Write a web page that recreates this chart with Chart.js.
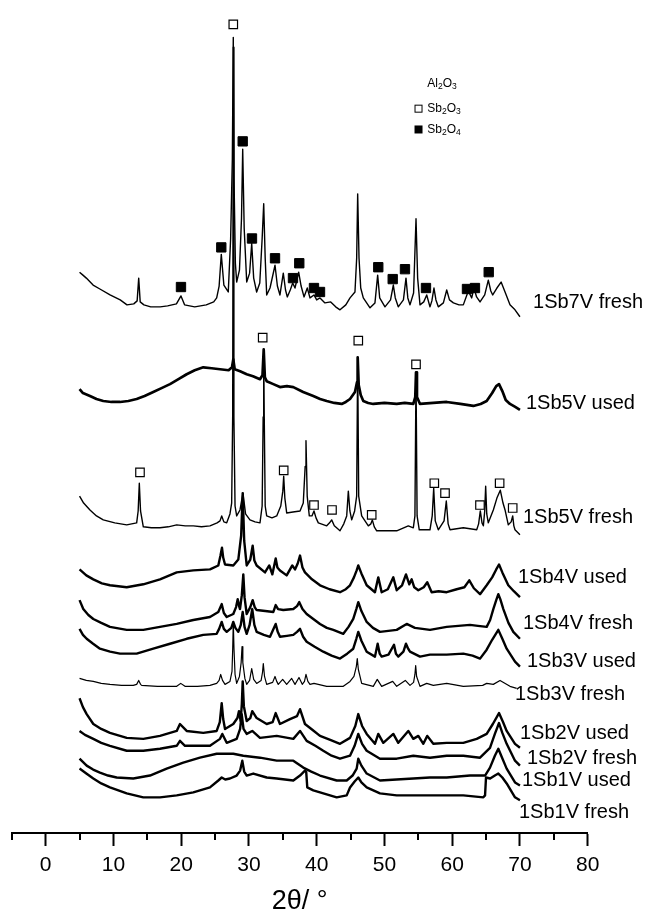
<!DOCTYPE html>
<html>
<head>
<meta charset="utf-8">
<script src="https://cdn.jsdelivr.net/npm/chart.js@4.4.0/dist/chart.umd.min.js"></script>
<style>
  html, body { margin: 0; padding: 0; background: #fff; }
  canvas { display: block; }
</style>
</head>
<body>
<canvas id="xrdChart" width="652" height="918"></canvas>
<script>
// XRD patterns, stacked with a vertical offset: [2theta, counts (a.u.)]
const sb7vFresh = [[5.0,566],[5.5,563],[6.0,560],[7.0,553],[8.0,549],[9.5,543],[11.0,538],[12.0,533],[13.0,534],[13.5,537],[13.73,560],[13.95,536],[14.5,533],[15.5,531],[16.9,531],[18.0,532],[19.3,534],[19.97,542],[20.5,533],[22.0,531],[23.7,533],[24.8,536],[25.24,540],[25.6,552],[25.92,584],[26.3,553],[26.95,546],[27.3,600],[27.55,680],[27.69,803],[27.8,660],[28.0,575],[28.19,556],[28.6,568],[28.9,620],[29.08,690],[29.3,610],[29.67,556],[30.1,565],[30.41,595],[30.7,560],[31.14,546],[31.6,555],[31.95,600],[32.18,635],[32.4,580],[32.62,543],[33.11,550],[33.85,573],[34.2,552],[34.58,543],[35.07,565],[35.4,548],[35.66,541],[36.1,548],[36.46,555],[36.8,550],[37.34,566],[37.7,552],[38.13,541],[38.61,550],[39.01,540],[39.6,543],[40.0,538],[40.49,540],[41.22,535],[42.07,536],[42.8,531],[43.44,528],[44.3,533],[44.92,540],[45.65,546],[45.9,580],[46.05,645],[46.25,580],[46.5,550],[46.88,540],[47.87,530],[48.6,535],[49.0,563],[49.3,540],[50.08,531],[50.9,538],[51.31,553],[51.6,540],[52.04,531],[52.8,538],[53.18,560],[53.45,540],[53.77,533],[54.3,545],[54.66,620],[54.9,560],[55.25,533],[55.8,536],[56.24,543],[56.72,531],[57.0,537],[57.31,550],[57.6,538],[57.95,531],[58.7,535],[59.19,548],[59.6,538],[60.18,535],[61.0,533],[61.64,533],[62.38,547],[62.88,540],[63.22,550],[63.6,541],[64.11,536],[64.8,543],[65.33,558],[65.7,547],[65.98,543],[66.6,550],[67.22,556],[67.8,546],[68.53,533],[69.27,528],[70.0,521]];

const sb5vUsed = [[5.0,448],[5.5,444],[6.54,441],[7.5,438],[8.5,436],[9.7,435],[10.97,435],[12.2,436],[13.43,438],[14.6,441],[15.88,445],[17.1,449],[18.35,453],[19.6,458],[20.81,463],[22.0,467],[23.26,470],[24.5,469],[25.73,468],[27.0,467],[27.5,470],[27.69,478],[27.9,468],[28.7,466],[29.67,463],[30.6,461],[31.63,458],[32.0,462],[32.18,488],[32.35,460],[32.62,456],[33.6,453],[34.58,450],[35.6,451],[36.55,450],[38.0,445],[39.5,441],[40.5,438],[41.48,436],[42.6,434],[43.69,433],[44.3,435],[44.92,438],[45.65,445],[45.95,455],[46.05,480],[46.2,452],[46.5,442],[46.88,436],[47.6,434],[48.35,433],[50.0,434],[51.81,433],[53.0,434],[54.26,433],[54.55,440],[54.66,465],[54.8,440],[55.25,433],[57.2,434],[59.19,435],[61.2,433],[63.12,431],[64.2,433],[65.09,436],[65.9,444],[66.5,451],[66.91,453],[67.4,446],[67.9,437],[68.53,433],[69.3,430],[70.0,427]];

const sb5vFresh = [[5.0,340],[5.6,333],[6.54,326],[7.5,320],[8.5,316],[10.2,313],[11.96,311],[13.43,313],[13.65,325],[13.82,353],[14.0,325],[14.41,309],[15.6,308],[16.87,308],[18.1,309],[19.34,311],[20.6,310],[21.79,310],[23.0,309],[24.25,310],[25.3,313],[25.73,315],[25.98,320],[26.3,314],[26.72,313],[27.2,322],[27.45,333],[27.6,420],[27.69,793],[27.78,420],[27.95,330],[28.19,320],[28.68,326],[29.12,343],[29.5,322],[30.15,316],[30.9,314],[31.63,313],[31.95,330],[32.1,420],[32.18,488],[32.26,420],[32.4,330],[32.62,320],[33.4,318],[34.1,320],[34.7,330],[35.0,345],[35.13,360],[35.3,338],[35.57,323],[36.5,324],[37.54,325],[38.02,333],[38.3,370],[38.42,396],[38.6,340],[38.91,320],[39.3,320],[39.6,325],[39.9,318],[40.24,313],[41.48,310],[41.9,313],[42.21,316],[42.6,310],[43.44,305],[44.0,312],[44.43,320],[44.67,345],[44.9,325],[45.17,316],[45.6,325],[45.9,340],[46.05,480],[46.2,340],[46.64,320],[47.62,310],[48.0,312],[48.21,316],[48.5,309],[48.86,305],[50.3,305],[51.81,305],[53.52,310],[54.26,308],[54.5,320],[54.66,463],[54.82,320],[55.14,306],[56.72,306],[57.05,320],[57.27,348],[57.5,315],[57.95,306],[58.8,315],[59.13,335],[59.4,312],[59.68,306],[61.64,308],[63.62,306],[63.9,312],[64.15,325],[64.4,313],[64.6,310],[64.8,325],[64.94,350],[65.1,322],[65.33,313],[66.07,326],[66.6,338],[67.1,346],[67.5,333],[67.8,326],[68.28,311],[68.7,314],[68.93,320],[69.1,310],[69.27,306],[70.0,301]];

const sb4vUsed = [[5.0,266],[6.0,260],[7.03,256],[8.3,252],[9.49,250],[11.96,248],[14.41,251],[16.87,256],[19.34,263],[21.79,265],[24.25,266],[25.48,270],[25.8,280],[26.02,288],[26.2,278],[26.47,271],[27.69,270],[28.43,276],[28.85,300],[29.08,343],[29.3,295],[29.67,270],[30.2,276],[30.55,290],[30.8,275],[31.14,270],[32.37,263],[33.0,270],[33.45,261],[33.95,277],[34.2,268],[34.58,265],[35.57,260],[36.4,270],[36.8,266],[37.2,272],[37.54,280],[37.9,268],[38.27,263],[39.3,256],[40.49,250],[41.9,246],[43.44,243],[44.3,246],[44.92,250],[45.5,258],[45.9,265],[46.14,270],[46.6,262],[47.38,250],[48.6,243],[49.09,258],[49.59,243],[50.5,246],[51.31,258],[51.81,245],[52.6,250],[53.18,261],[53.67,251],[54.02,256],[54.4,248],[55.0,245],[55.8,248],[56.32,253],[56.97,243],[58.0,244],[59.19,243],[60.66,246],[61.8,248],[62.52,255],[63.2,247],[64.11,241],[65.09,250],[65.9,258],[66.5,266],[66.91,271],[67.4,263],[68.28,250],[69.1,244],[70.0,238]];

const sb4vFresh = [[5.0,235],[5.55,226],[6.3,220],[7.03,216],[8.2,212],[9.49,208],[11.96,205],[14.41,205],[16.87,208],[19.34,211],[21.79,215],[24.25,218],[25.48,223],[25.98,231],[26.3,222],[26.72,218],[27.69,221],[28.1,228],[28.34,236],[28.55,229],[28.68,226],[28.95,240],[29.17,261],[29.35,238],[29.67,221],[30.2,228],[30.55,235],[30.85,228],[31.14,225],[32.4,224],[33.59,223],[33.95,230],[34.3,226],[35.07,225],[36.55,226],[37.1,229],[37.43,233],[37.9,226],[38.52,221],[39.5,216],[40.49,211],[41.5,207],[42.45,205],[43.93,201],[44.7,208],[45.4,216],[45.85,226],[46.14,233],[46.6,224],[47.38,213],[48.3,207],[49.34,203],[51.81,205],[53.28,211],[54.5,207],[56.72,205],[59.19,208],[60.9,209],[62.63,210],[63.8,209],[65.09,208],[65.6,215],[66.07,226],[66.5,235],[66.81,241],[67.1,236],[67.55,226],[68.3,212],[69.02,203],[70.0,196]];

const sb3vUsed = [[5.0,206],[5.5,200],[6.05,196],[7.0,191],[8.01,186],[9.5,183],[10.97,181],[13.43,181],[15.88,186],[18.35,191],[20.81,196],[23.26,200],[25.24,201],[25.6,206],[25.98,213],[26.3,206],[26.72,203],[27.4,207],[27.69,213],[28.0,207],[28.43,203],[28.8,210],[29.08,223],[29.35,208],[29.67,201],[30.1,210],[30.49,226],[30.8,210],[31.14,203],[32.2,200],[33.11,198],[33.95,211],[34.25,203],[34.58,198],[35.6,199],[36.55,200],[37.1,203],[37.54,206],[38.0,198],[38.52,193],[39.7,188],[40.97,183],[42.2,179],[43.44,176],[44.5,181],[45.4,186],[45.85,196],[46.14,203],[46.6,194],[47.38,183],[48.6,178],[49.0,191],[49.3,181],[49.59,178],[50.6,180],[51.41,190],[51.7,181],[52.04,178],[52.8,183],[53.18,191],[53.5,186],[53.77,183],[55.25,178],[56.72,180],[59.19,180],[61.64,181],[63.0,179],[64.11,176],[65.09,185],[65.9,195],[66.81,205],[67.4,196],[68.04,186],[69.27,173],[70.0,168]];

const sb3vFresh = [[5.0,156],[6.0,154],[7.03,153],[8.2,151],[9.49,150],[11.2,149],[12.93,149],[13.43,150],[13.73,154],[14.0,150],[14.17,149],[16.5,148],[19.34,148],[19.93,151],[20.56,148],[22.4,148],[24.25,149],[25.24,151],[25.6,154],[25.83,160],[26.1,154],[26.47,150],[27.2,153],[27.5,163],[27.6,185],[27.69,213],[27.8,185],[27.95,160],[28.19,151],[28.6,158],[28.85,172],[28.98,188],[29.1,172],[29.4,156],[29.67,150],[30.1,154],[30.41,166],[30.7,155],[31.14,151],[31.8,154],[32.0,162],[32.12,171],[32.3,158],[32.62,150],[33.5,152],[33.85,158],[34.1,153],[34.33,150],[34.98,155],[35.57,150],[36.31,156],[36.8,150],[37.39,157],[37.87,150],[38.2,153],[38.42,160],[38.7,153],[39.01,150],[39.6,151],[41.48,148],[43.93,148],[44.92,153],[45.5,158],[45.85,168],[45.99,176],[46.15,165],[46.64,151],[48.35,148],[48.94,155],[49.59,148],[51.22,153],[51.81,148],[53.08,154],[53.77,149],[54.3,152],[54.5,160],[54.61,169],[54.75,158],[55.25,148],[56.24,151],[57.21,149],[59.19,151],[61.64,148],[64.5,149],[65.09,151],[66.07,150],[67.06,154],[68.53,148],[69.52,146]];

const sb2vUsed = [[5.0,136],[5.5,127],[6.05,120],[7.03,110],[8.2,105],[9.49,101],[11.96,96],[14.41,95],[16.87,98],[19.34,103],[19.82,110],[20.81,103],[23.26,101],[25.24,103],[25.7,112],[25.98,131],[26.2,115],[26.47,105],[27.69,110],[28.3,116],[28.53,123],[28.78,113],[28.95,130],[29.08,153],[29.25,128],[29.67,113],[30.2,116],[30.49,123],[31.14,116],[32.62,110],[33.5,112],[33.95,121],[34.58,110],[36.06,115],[37.1,118],[37.54,125],[38.27,110],[39.4,104],[40.49,98],[42.0,94],[43.44,90],[44.92,96],[45.7,108],[46.14,120],[46.7,108],[47.38,100],[48.6,90],[49.09,100],[49.83,91],[51.31,100],[52.04,91],[53.52,103],[54.26,95],[55.0,98],[55.74,90],[56.32,98],[57.21,90],[59.19,91],[61.64,91],[63.62,95],[65.09,100],[66.0,110],[66.91,121],[67.5,112],[68.04,103],[69.27,90],[70.0,86]];

const sb2vFresh = [[5.0,103],[5.8,99],[7.03,95],[8.2,91],[9.49,88],[11.96,83],[14.41,83],[16.87,85],[19.34,88],[19.82,93],[20.56,88],[21.79,88],[24.25,88],[25.73,95],[26.07,100],[26.72,91],[28.19,95],[28.7,105],[28.93,120],[29.2,105],[29.67,100],[30.49,103],[31.63,96],[34.1,98],[36.55,95],[37.54,103],[38.52,93],[39.8,88],[40.97,83],[42.2,78],[43.44,75],[44.92,78],[45.6,88],[46.14,100],[46.7,90],[47.38,83],[49.34,75],[51.81,75],[54.26,78],[56.72,76],[59.19,78],[61.64,78],[64.11,76],[65.58,86],[66.3,100],[66.91,111],[67.4,101],[68.04,90],[69.27,73],[70.0,68]];

const sb1vUsed = [[5.0,75],[6.05,68],[7.0,64],[8.01,61],[9.2,58],[10.48,56],[12.93,55],[15.39,58],[17.86,65],[20.31,71],[22.77,76],[25.24,80],[27.69,80],[29.17,78],[31.63,76],[34.1,73],[36.55,73],[38.02,66],[39.2,62],[40.49,58],[42.95,53],[44.43,53],[45.3,58],[45.9,65],[46.14,75],[46.6,68],[47.38,60],[49.34,53],[51.8,54],[54.26,55],[56.7,56],[59.19,56],[62.63,58],[64.85,58],[65.58,66],[66.3,78],[66.81,85],[67.3,77],[68.04,65],[69.27,51],[70.0,48]];

const sb1vFresh = [[5.0,65],[6.0,60],[7.03,55],[8.2,50],[9.49,46],[11.96,40],[14.41,36],[16.87,36],[19.34,38],[21.79,41],[24.25,46],[25.48,53],[25.98,56],[26.5,54],[27.2,55],[28.19,58],[28.7,63],[29.02,73],[29.3,62],[29.67,58],[30.64,60],[32.62,56],[34.1,55],[36.55,53],[37.54,58],[38.27,63],[38.45,62],[38.61,46],[39.5,43],[40.49,41],[42.95,36],[44.43,38],[44.92,46],[45.6,52],[46.14,56],[46.6,51],[47.38,46],[49.34,40],[51.81,38],[56.72,38],[61.64,38],[64.6,36],[64.85,38],[64.99,56],[65.6,55],[66.3,58],[66.81,60],[67.4,56],[68.04,50],[69.27,36],[70.0,33]];

const sampleNames = ['1Sb7V fresh', '1Sb5V used', '1Sb5V fresh', '1Sb4V used', '1Sb4V fresh',
  '1Sb3V used', '1Sb3V fresh', '1Sb2V used', '1Sb2V fresh', '1Sb1V used', '1Sb1V fresh'];

// reflection markers [2theta, counts]
const sb2o3Peaks = [[27.69,816],[32.03,500],[46.14,497],[54.66,473],[13.92,364],[35.13,366],[39.6,331],[42.26,326],[48.12,321],[57.36,353],[58.94,343],[64.1,331],[67.0,353],[68.93,328]];
const sb2o4Peaks = [[19.97,551],[25.92,591],[29.08,698],[30.45,600],[33.85,580],[36.5,560],[37.43,575],[39.6,550],[40.49,546],[49.09,571],[51.22,559],[53.03,569],[56.13,550],[62.18,549],[63.36,550],[65.39,566]];

const xTicks = [0, 10, 20, 30, 40, 50, 60, 70, 80];
const minorTicks = [-5, 5, 15, 25, 35, 45, 55, 65, 75];

const traces = [sb7vFresh, sb5vUsed, sb5vFresh, sb4vUsed, sb4vFresh, sb3vUsed, sb3vFresh, sb2vUsed, sb2vFresh, sb1vUsed, sb1vFresh];
// the used / low-loading scans are noisy, so they print heavier
const lineWidths = [1.4, 2.7, 1.4, 2.4, 2.4, 2.4, 1.2, 2.4, 2.4, 2.4, 2.4];

// where each sample name sits, in axis units
const labelSpots = [[71.93,535],[70.89,433],[70.45,318],[69.71,258],[70.45,211],[71.04,173],[69.27,140],[70.0,100],[71.04,75],[70.3,53],[69.86,21]];

const FONT = '"Liberation Sans", Arial, Helvetica, sans-serif';

function toXY(arr) {
    return arr.map(function (p) { return { x: p[0], y: p[1] }; });
}

const datasets = traces.map(function (t, i) {
    return {
        type: 'line',
        label: sampleNames[i],
        data: toXY(t),
        borderColor: '#000',
        borderWidth: lineWidths[i],
        pointRadius: 0,
        tension: 0,
        fill: false,
        borderJoinStyle: 'round',
        order: 1
    };
});

datasets.push({
    type: 'scatter',
    label: 'Sb2O3',
    data: toXY(sb2o3Peaks),
    pointStyle: 'rect',
    pointRadius: 6,
    backgroundColor: '#fff',
    borderColor: '#000',
    borderWidth: 1.2,
    order: 0
});
datasets.push({
    type: 'scatter',
    label: 'Sb2O4',
    data: toXY(sb2o4Peaks),
    pointStyle: 'rect',
    pointRadius: 6.6,
    backgroundColor: '#000',
    borderColor: '#000',
    borderWidth: 1,
    order: 0
});

// formula with subscript digits, e.g. ['Sb','2','O','3']
function drawFormula(ctx, parts, x, y) {
    let cx = x;
    parts.forEach(function (p) {
        const sub = /^\d+$/.test(p);
        ctx.font = (sub ? '8.5px ' : '12px ') + FONT;
        ctx.fillText(p, cx, sub ? y + 3 : y);
        cx += ctx.measureText(p).width;
    });
}

const annotations = {
    id: 'annotations',
    afterDraw(chart) {
        const ctx = chart.ctx;
        const xs = chart.scales.x;
        const ys = chart.scales.y;
        ctx.save();

        // minor ticks at the half decades
        ctx.strokeStyle = '#000';
        ctx.lineWidth = 2;
        minorTicks.forEach(function (v) {
            const px = Math.round(xs.getPixelForValue(v));
            ctx.beginPath();
            ctx.moveTo(px, xs.top);
            ctx.lineTo(px, xs.top + 7);
            ctx.stroke();
        });

        // sample names
        ctx.fillStyle = '#000';
        ctx.textBaseline = 'middle';
        ctx.textAlign = 'left';
        ctx.font = '20px ' + FONT;
        sampleNames.forEach(function (name, i) {
            const s = labelSpots[i];
            ctx.fillText(name, xs.getPixelForValue(s[0]), ys.getPixelForValue(s[1]));
        });

        // phase key
        const keyX = xs.getPixelForValue(55.03);
        const textX = xs.getPixelForValue(56.32);
        const rowA = ys.getPixelForValue(756);
        const rowB = ys.getPixelForValue(731);
        const rowC = ys.getPixelForValue(710);
        drawFormula(ctx, ['Al', '2', 'O', '3'], textX, rowA);
        ctx.lineWidth = 1;
        ctx.strokeRect(keyX - 3.5, rowB - 3.5, 7, 7);
        drawFormula(ctx, ['Sb', '2', 'O', '3'], textX, rowB);
        ctx.fillRect(keyX - 4, rowC - 4, 8, 8);
        drawFormula(ctx, ['Sb', '2', 'O', '4'], textX, rowC);

        ctx.restore();
    }
};

new Chart(document.getElementById('xrdChart').getContext('2d'), {
    data: { datasets: datasets },
    plugins: [annotations],
    options: {
        responsive: false,
        animation: false,
        devicePixelRatio: 1,
        layout: { padding: { left: 11.8, right: 64.3, top: 0, bottom: 0 } },
        plugins: {
            legend: { display: false },
            tooltip: { enabled: false }
        },
        scales: {
            x: {
                type: 'linear',
                position: 'bottom',
                min: -5,
                max: 80,
                afterBuildTicks: function (scale) {
                    scale.ticks = xTicks.map(function (v) { return { value: v }; });
                },
                afterFit: function (scale) {
                    scale.height = 85;
                },
                border: { display: true, color: '#000', width: 2 },
                grid: {
                    drawOnChartArea: false,
                    drawTicks: true,
                    tickLength: 13,
                    tickWidth: 2,
                    tickColor: '#000'
                },
                ticks: {
                    color: '#000',
                    padding: 7,
                    maxRotation: 0,
                    font: { family: FONT, size: 21 }
                },
                title: {
                    display: true,
                    text: '2θ/ °',
                    color: '#000',
                    padding: { top: 0, bottom: 0 },
                    font: { family: FONT, size: 27 }
                }
            },
            y: {
                display: false,
                min: 0,
                max: 833
            }
        }
    }
});
</script>
</body>
</html>
